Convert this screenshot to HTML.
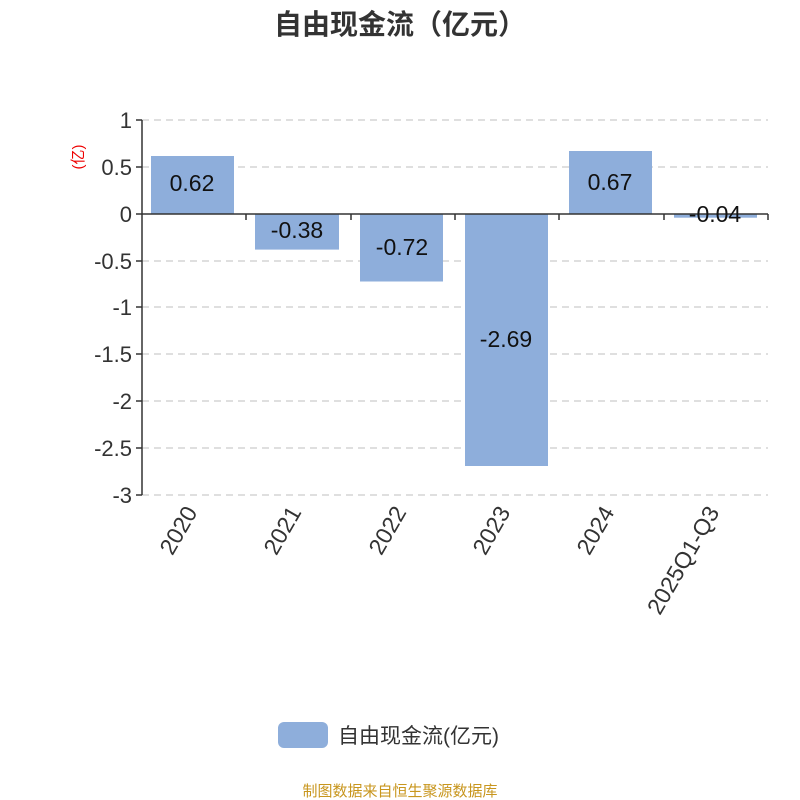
<!DOCTYPE html>
<html><head><meta charset="utf-8"><style>
html,body{margin:0;padding:0;background:#fff;}
svg{display:block;}
text{font-family:"Liberation Sans","Noto Sans CJK SC",sans-serif;}
</style></head><body>
<svg width="800" height="800" viewBox="0 0 800 800" xmlns="http://www.w3.org/2000/svg">
<rect width="800" height="800" fill="#fff"/>
<text x="400" y="34" text-anchor="middle" font-size="28" font-weight="bold" fill="#333">自由现金流（亿元）</text>
<g stroke="#ccc" stroke-width="1.3" stroke-dasharray="7,5">
<line x1="142" y1="120" x2="768" y2="120"/>
<line x1="142" y1="167" x2="768" y2="167"/>
<line x1="142" y1="261" x2="768" y2="261"/>
<line x1="142" y1="307" x2="768" y2="307"/>
<line x1="142" y1="354" x2="768" y2="354"/>
<line x1="142" y1="401" x2="768" y2="401"/>
<line x1="142" y1="448" x2="768" y2="448"/>
<line x1="142" y1="495" x2="768" y2="495"/>
</g>
<g fill="#8eaedb">
<rect x="151" y="156" width="83" height="58"/>
<rect x="255" y="214" width="84" height="35.6"/>
<rect x="360" y="214" width="83" height="67.5"/>
<rect x="465" y="214" width="83" height="252"/>
<rect x="569" y="151" width="83" height="63"/>
<rect x="674" y="214" width="83" height="3.7"/>
</g>
<g stroke="#333" stroke-width="1.5" fill="none">
<line x1="142" y1="120" x2="142" y2="495"/>
<line x1="136" y1="120" x2="142" y2="120"/>
<line x1="136" y1="167" x2="142" y2="167"/>
<line x1="136" y1="214" x2="142" y2="214"/>
<line x1="136" y1="261" x2="142" y2="261"/>
<line x1="136" y1="307" x2="142" y2="307"/>
<line x1="136" y1="354" x2="142" y2="354"/>
<line x1="136" y1="401" x2="142" y2="401"/>
<line x1="136" y1="448" x2="142" y2="448"/>
<line x1="136" y1="495" x2="142" y2="495"/>
<line x1="142" y1="214" x2="768" y2="214"/>
<line x1="246" y1="214" x2="246" y2="220"/>
<line x1="351" y1="214" x2="351" y2="220"/>
<line x1="455" y1="214" x2="455" y2="220"/>
<line x1="559" y1="214" x2="559" y2="220"/>
<line x1="664" y1="214" x2="664" y2="220"/>
<line x1="768" y1="214" x2="768" y2="220"/>
</g>
<g font-size="22" fill="#333" text-anchor="end">
<text x="132" y="128">1</text>
<text x="132" y="175">0.5</text>
<text x="132" y="222">0</text>
<text x="132" y="269">-0.5</text>
<text x="132" y="315">-1</text>
<text x="132" y="362">-1.5</text>
<text x="132" y="409">-2</text>
<text x="132" y="456">-2.5</text>
<text x="132" y="503">-3</text>
</g>
<text transform="translate(83,157) rotate(-90)" text-anchor="middle" font-size="15" fill="#e00">(亿)</text>
<g font-size="23" fill="#111" text-anchor="middle">
<text x="192" y="191">0.62</text>
<text x="297" y="238">-0.38</text>
<text x="402" y="255">-0.72</text>
<text x="506" y="347">-2.69</text>
<text x="610" y="190">0.67</text>
<text x="715" y="222">-0.04</text>
</g>
<g font-size="23" fill="#333" text-anchor="end">
<text transform="translate(198,512) rotate(-60)">2020</text>
<text transform="translate(302,512) rotate(-60)">2021</text>
<text transform="translate(407,512) rotate(-60)">2022</text>
<text transform="translate(511,512) rotate(-60)">2023</text>
<text transform="translate(615,512) rotate(-60)">2024</text>
<text transform="translate(720,512) rotate(-60)">2025Q1-Q3</text>
</g>
<rect x="278" y="722" width="50" height="26" rx="6" fill="#8eaedb"/>
<text x="338" y="743" font-size="21" fill="#333">自由现金流(亿元)</text>
<text x="400" y="796" text-anchor="middle" font-size="15" fill="#c8961e">制图数据来自恒生聚源数据库</text>
</svg>
</body></html>
